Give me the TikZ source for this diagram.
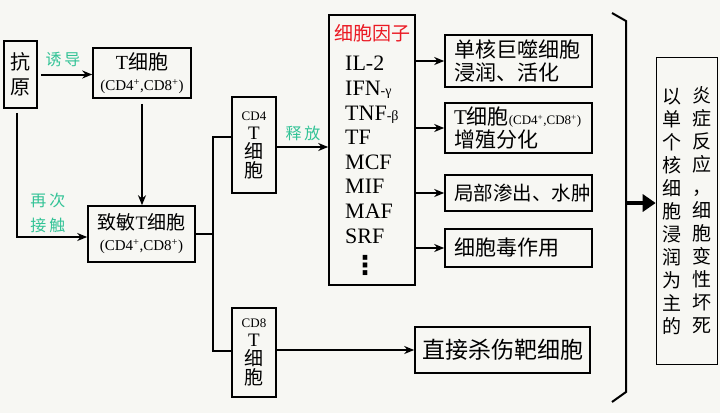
\documentclass[tikz,border=0pt]{standalone}
\usepackage{fontspec}
\setmainfont{Liberation Serif}
\newfontfamily\cjk{Noto Sans CJK SC}
\newfontfamily\symfont{DejaVu Sans}
\usepackage{tikz}
\usetikzlibrary{calc,arrows.meta,positioning}
\definecolor{paper}{RGB}{247,247,243}
\definecolor{labelgreen}{RGB}{50,195,150}
\definecolor{headred}{RGB}{235,25,35}
\tikzset{
    cellbox/.style={
    rectangle,draw=black,line width=1.6pt,inner sep=2pt,align=center
    },
    effectbox/.style={
    rectangle,draw=black,line width=1.6pt,inner xsep=9pt,inner ysep=2pt,align=left,text width=129pt,font=\cjk\fontsize{21}{23}\selectfont
    },
    steplabel/.style={
    text=labelgreen,font=\cjk\fontsize{16}{25}\selectfont,align=center
    },
    listitem/.style={
    anchor=base west,inner sep=0pt,font=\fontsize{22}{24}\selectfont
    },
    vcolumn/.style={
    inner sep=0pt,align=center,font=\cjk\fontsize{19}{23}\selectfont
    },
    flow/.style={
    line width=2pt,-{Stealth[length=10pt,width=8pt]}
    },
    bigflow/.style={
    line width=4.5pt,-{Triangle[length=13pt,width=17pt]}
    },
    link/.style={
    line width=2pt
    },
}

\begin{document}
\begin{tikzpicture}[x=1pt,y=-1pt]
   \fill[paper] (0,0) rectangle (720,413);
   \useasboundingbox (0,0) rectangle (720,413);
   % cells
   \node[cellbox,minimum width=33pt,minimum height=67pt,font=\cjk\fontsize{20}{25}\selectfont] (antigen) at (20.5,74.5) {抗\\原};
   \node[cellbox,minimum width=98pt,minimum height=50pt,font=\fontsize{20}{21}\selectfont] (tcell) at (142,73) {T{\cjk 细胞}\\{\fontsize{15}{17}\selectfont(CD4\textsuperscript{+},CD8\textsuperscript{+})}};
   \node[cellbox,minimum width=107pt,minimum height=56pt,font=\fontsize{19}{21}\selectfont] (sens) at (141.5,234) {{\cjk 致敏}T{\cjk 细胞}\\{\fontsize{15}{17}\selectfont(CD4\textsuperscript{+},CD8\textsuperscript{+})}};
   \node[cellbox,minimum width=44pt,minimum height=96pt,font=\fontsize{19}{19}\selectfont] (cd4) at (254,145) {{\fontsize{13}{13}\selectfont CD4}\\T\\{\cjk 细}\\{\cjk 胞}};
   \node[cellbox,minimum width=44pt,minimum height=89pt,font=\fontsize{19}{19}\selectfont] (cd8) at (254,352.5) {{\fontsize{13}{13}\selectfont CD8}\\T\\{\cjk 细}\\{\cjk 胞}};
   % cytokines
   \node[cellbox,minimum width=86pt,minimum height=270pt] (cyto) at (372,150) {};
   \node[text=headred,font=\cjk\fontsize{19}{20}\selectfont] (cytohead) at (372,33) {细胞因子};
   \node[listitem] (il2) at (345,70.5) {IL-2};
   \node[listitem] (ifn) at (345,95.5) {IFN{\fontsize{14}{14}\selectfont -γ}};
   \node[listitem] (tnf) at (345,120.5) {TNF{\fontsize{14}{14}\selectfont -β}};
   \node[listitem] (tf) at (345,144.5) {TF};
   \node[listitem] (mcf) at (345,169.5) {MCF};
   \node[listitem] (mif) at (345,193.5) {MIF};
   \node[listitem] (maf) at (345,218.5) {MAF};
   \node[listitem] (srf) at (345,243.5) {SRF};
   \node[inner sep=0pt,font=\symfont\bfseries\fontsize{26}{26}\selectfont] (more) at (365,265) {⋮};
   % effects
   \node[effectbox,minimum height=52pt] (macro) at (518.5,61) {单核巨噬细胞\\浸润、活化};
   \node[effectbox,minimum height=50pt] (prolif) at (518.5,128) {{\rmfamily T}细胞{\rmfamily\fontsize{13}{13}\selectfont(CD4\textsuperscript{+},CD8\textsuperscript{+})}\\增殖分化};
   \node[effectbox,minimum height=36pt,font=\cjk\fontsize{19.5}{22}\selectfont] (edema) at (518.5,193) {局部渗出、水肿};
   \node[effectbox,minimum height=38pt] (toxic) at (518.5,248) {细胞毒作用};
   \node[cellbox,minimum width=175pt,minimum height=46pt,font=\cjk\fontsize{23}{24}\selectfont] (kill) at (502.5,350) {直接杀伤靶细胞};
   % result
   \node[cellbox,minimum width=61pt,minimum height=307pt] (result) at (687,211) {};
   \node[vcolumn] (colright) at (702,210.5) {炎\\症\\反\\应\\，\\细\\胞\\变\\性\\坏\\死};
   \node[vcolumn] (colleft) at (672,211) {以\\单\\个\\核\\细\\胞\\浸\\润\\为\\主\\的};
   % labels
   \node[steplabel] (induce) at (63,60) {诱\hspace{3pt}导};
   \node[steplabel] (again) at (48,213) {再\hspace{3pt}次\\接\hspace{3pt}触};
   \node[steplabel] (release) at (303,133) {释\hspace{3pt}放};
   % fork and bracket
   \coordinate (fork) at (213,235);
   \coordinate (forkup) at (213,137);
   \coordinate (forkdown) at (213,351);
   \coordinate (brmid) at (626,203);
   \draw[link] (612,13) -- (626,21) -- (626,392) -- (612,402);

   \draw[flow,shorten <=3pt] (antigen.east) -- (antigen.east -| tcell.west);
   \draw[flow,shorten <=5pt] (tcell.south) -- (tcell.south |- sens.north);
   \draw[flow,shorten <=4pt] ([xshift=-3.5pt]antigen.south) |- ([yshift=-3pt]sens.west);
   \draw[link] (sens.east) -- (sens.east -| fork);
   \draw[link] (forkup -| cd4.west) -- (forkup) -- (forkdown) -- (forkdown -| cd8.west);
   \draw[flow] ([yshift=-2pt]cd4.east) -- ([yshift=-2pt]cd4.east -| cyto.west);
   \draw[flow] (cyto.east |- macro.west) -- (macro.west);
   \draw[flow] (cyto.east |- prolif.west) -- (prolif.west);
   \draw[flow] (cyto.east |- edema.west) -- (edema.west);
   \draw[flow] (cyto.east |- toxic.west) -- (toxic.west);
   \draw[flow] (cd8.east |- kill.west) -- (kill.west);
   \draw[bigflow] (brmid) -- (brmid -| result.west);
\end{tikzpicture}
\end{document}
